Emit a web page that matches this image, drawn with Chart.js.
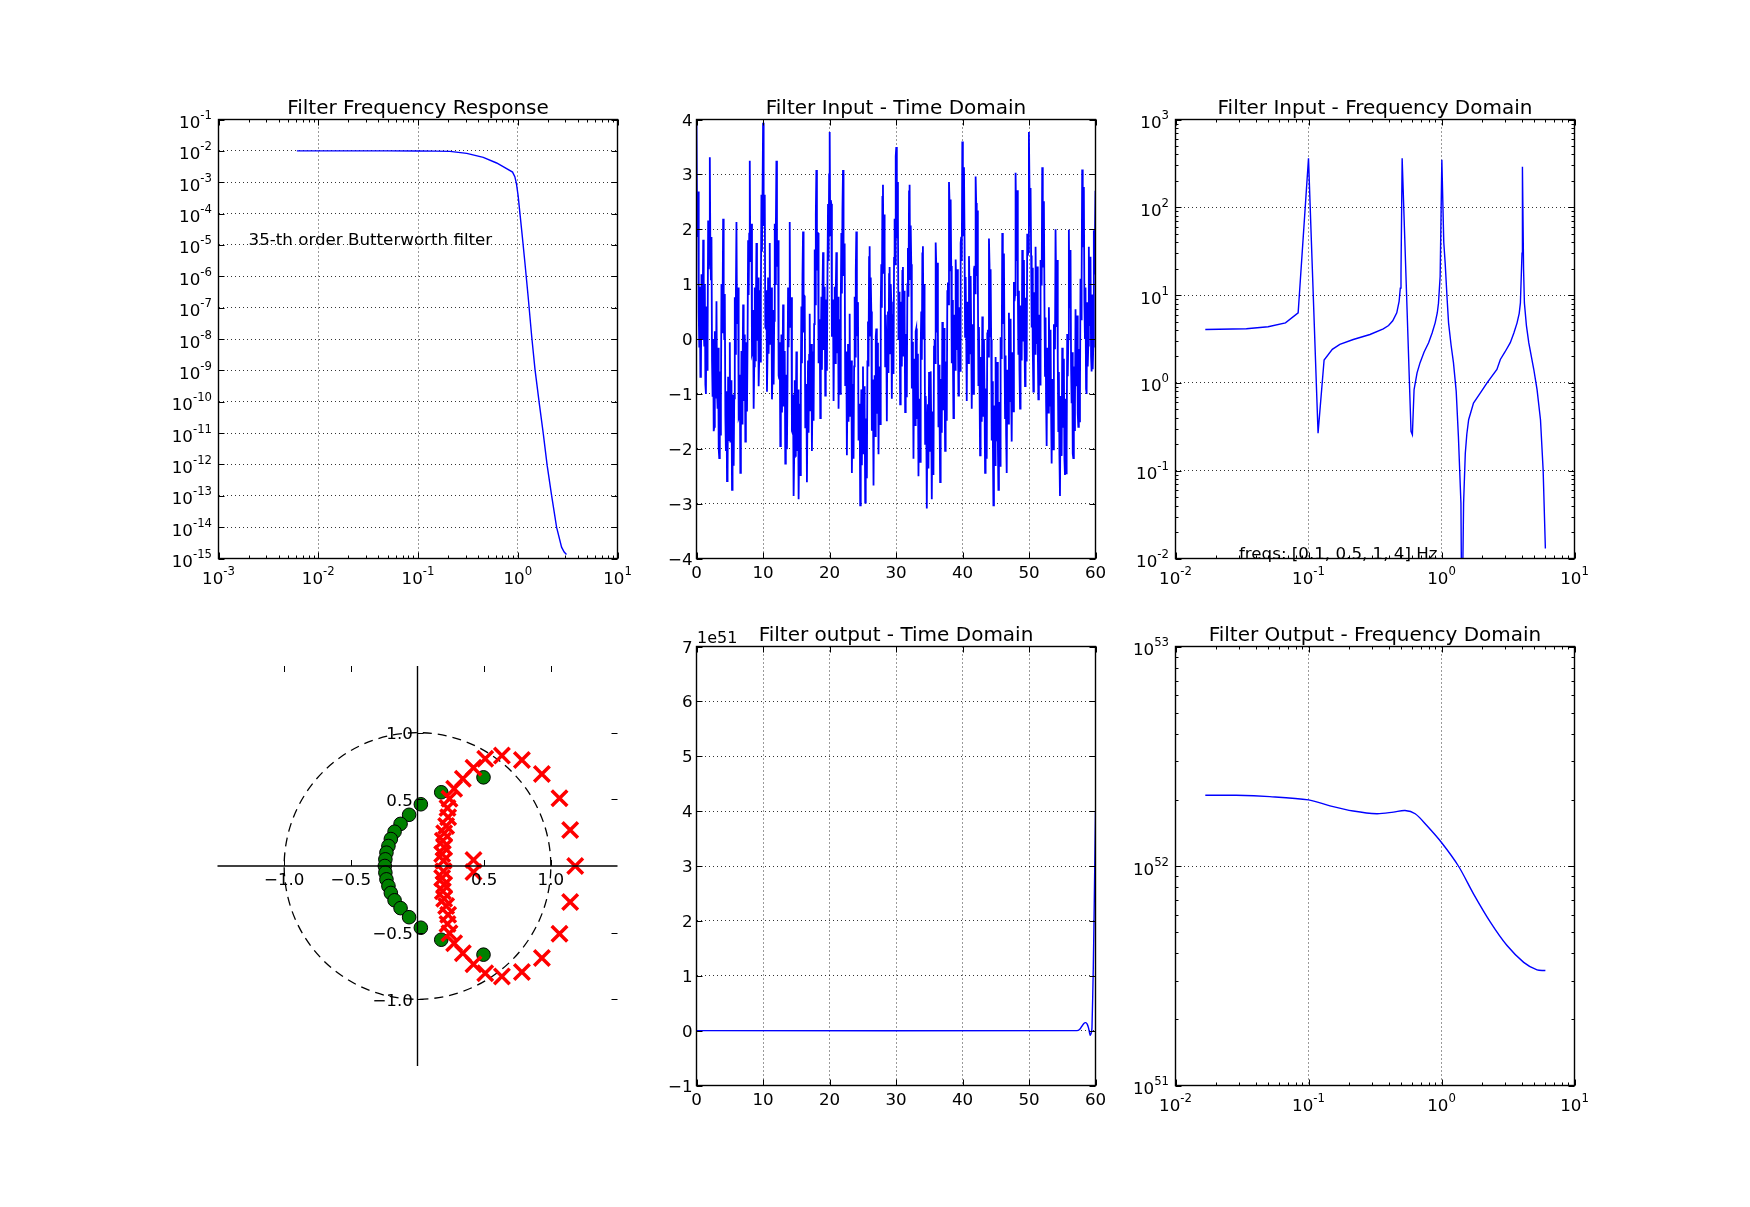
<!DOCTYPE html>
<html><head><meta charset="utf-8">
<script src="https://cdn.jsdelivr.net/npm/chart.js@4.4.1/dist/chart.umd.min.js"></script>
<style>
html,body{margin:0;padding:0;background:#fff;}
#wrap{position:relative;width:1750px;height:1207px;background:#fff;}
#wrap canvas{position:absolute;left:0;top:0;}
</style></head>
<body><div id="wrap">
<canvas id="c1" width="1750" height="1207"></canvas>
<canvas id="c2" width="1750" height="1207"></canvas>
<canvas id="c3" width="1750" height="1207"></canvas>
<canvas id="c4" width="1750" height="1207"></canvas>
<canvas id="c5" width="1750" height="1207"></canvas>
<canvas id="c6" width="1750" height="1207"></canvas>
</div>
<script>
// ---------------- DATA ----------------
// 1. Filter frequency response (log-log)
const respFreq = [0.0061,0.02,0.05,0.1,0.15,0.209,0.308,0.451,0.614,0.743,0.887,0.935,0.972,1.01,1.05,1.11,1.18,1.27,1.38,1.49,1.64,1.80,1.97,2.18,2.45,2.75,2.92,3.08];
const respGain = [1.0e-2,1.0e-2,9.98e-3,9.9e-3,9.8e-3,9.6e-3,8.3e-3,6.2e-3,4.1e-3,2.9e-3,2.1e-3,1.5e-3,8.7e-4,3.6e-4,1.07e-4,1.9e-5,2.7e-6,2.3e-7,1.2e-8,1.05e-9,9.3e-11,1.0e-11,9.5e-13,1.07e-13,1.0e-14,2.3e-15,1.6e-15,1.35e-15];
const respNote = {text:'35-th order Butterworth filter', x:0.002, y:1e-5};

// 2. Filter input, time domain: 720 samples spread evenly over 0..60 s
const inputSampleStep = 60/719;
const inputSignal = [
4.00,2.33,1.86,2.69,0.48,-0.14,0.95,-0.69,-0.59,1.18,0.00,0.24,1.81,0.18,-0.12,1.00,-0.83,-1.00,0.59,-0.56,0.00,2.16,1.27,1.69,3.31,1.59,1.07,1.86,-0.40,-1.05,0.00,-1.68,-1.60,0.14,-1.07,-0.86,0.69,-0.96,-1.27,-0.16,-2.00,-2.17,-0.59,-1.74,-1.17,1.00,0.12,0.56,2.19,0.49,0.00,0.82,-1.41,-2.04,-0.95,-2.59,-2.48,-0.69,-1.86,-1.60,
-0.06,-1.87,-1.53,-0.75,-2.75,-2.26,-1.01,-2.31,-1.08,0.76,-0.27,0.82,2.13,0.29,0.45,0.94,-1.44,-1.41,-0.65,-2.44,-1.67,-0.22,-1.54,-0.63,0.63,-1.13,-0.74,0.08,-1.87,-1.35,-0.06,-1.32,-0.07,1.80,0.80,1.92,3.25,1.42,1.60,2.10,-0.27,-0.23,0.53,-1.27,-0.50,0.94,-0.39,0.51,1.75,-0.03,0.33,1.12,-0.86,-0.36,0.89,-0.41,0.81,2.63,1.59,2.66,
3.94,2.06,2.19,2.63,0.21,0.19,0.89,-0.96,-0.26,1.12,-0.27,0.57,1.75,-0.09,0.21,0.94,-1.10,-0.67,0.53,-0.83,0.33,2.10,1.00,2.02,3.25,1.32,1.40,1.80,-0.67,-0.72,-0.06,-1.95,-1.27,0.08,-1.34,-0.53,0.63,-1.23,-0.94,-0.22,-2.27,-1.84,-0.65,-2.01,-0.84,0.94,-0.15,0.89,2.13,0.22,0.33,0.76,-1.68,-1.71,-1.01,-2.86,-2.15,-0.75,-2.13,-1.27,
-0.23,-2.04,-1.19,-0.92,-2.92,-1.92,-1.18,-2.48,-0.74,0.59,-0.44,1.16,1.96,0.12,0.79,0.77,-1.61,-1.07,-0.82,-2.61,-1.33,-0.39,-1.71,-0.29,0.46,-1.30,-0.40,-0.09,-2.04,-1.01,-0.23,-1.49,0.27,1.63,0.63,2.26,3.08,1.25,1.94,1.93,-0.44,0.11,0.36,-1.44,-0.16,0.77,-0.56,0.85,1.58,-0.20,0.67,0.95,-1.03,-0.02,0.72,-0.58,1.15,2.46,1.42,3.00,
3.77,1.89,2.53,2.46,0.04,0.53,0.72,-1.13,0.08,0.95,-0.44,0.91,1.58,-0.26,0.55,0.77,-1.27,-0.33,0.36,-1.00,0.67,1.93,0.83,2.36,3.08,1.15,1.74,1.63,-0.84,-0.38,-0.23,-2.12,-0.93,-0.09,-1.51,-0.19,0.46,-1.40,-0.60,-0.39,-2.44,-1.50,-0.82,-2.18,-0.50,0.77,-0.32,1.23,1.96,0.05,0.67,0.59,-1.85,-1.37,-1.18,-3.03,-1.81,-0.92,-2.30,-0.93,
-0.50,-2.10,-0.86,-1.19,-2.98,-1.59,-1.45,-2.54,-0.41,0.32,-0.50,1.49,1.69,0.06,1.12,0.50,-1.67,-0.74,-1.09,-2.67,-1.00,-0.66,-1.77,0.04,0.19,-1.36,-0.07,-0.36,-2.10,-0.68,-0.50,-1.55,0.60,1.36,0.57,2.59,2.81,1.19,2.27,1.66,-0.50,0.44,0.09,-1.50,0.17,0.50,-0.62,1.18,1.31,-0.26,1.00,0.68,-1.09,0.31,0.45,-0.64,1.48,2.19,1.36,3.33,
3.50,1.83,2.86,2.19,-0.02,0.86,0.45,-1.19,0.41,0.68,-0.50,1.24,1.31,-0.32,0.88,0.50,-1.33,0.00,0.09,-1.06,1.00,1.66,0.77,2.69,2.81,1.09,2.07,1.36,-0.90,-0.05,-0.50,-2.18,-0.60,-0.36,-1.57,0.14,0.19,-1.46,-0.27,-0.66,-2.50,-1.17,-1.09,-2.24,-0.17,0.50,-0.38,1.56,1.69,-0.01,1.00,0.32,-1.91,-1.04,-1.45,-3.09,-1.48,-1.19,-2.36,-0.60,
-0.83,-2.04,-0.59,-1.52,-2.92,-1.32,-1.78,-2.48,-0.14,-0.01,-0.44,1.76,1.36,0.12,1.39,0.17,-1.61,-0.47,-1.42,-2.61,-0.73,-0.99,-1.71,0.31,-0.14,-1.30,0.20,-0.69,-2.04,-0.41,-0.83,-1.49,0.87,1.03,0.63,2.86,2.48,1.25,2.54,1.33,-0.44,0.71,-0.24,-1.44,0.44,0.17,-0.56,1.45,0.98,-0.20,1.27,0.35,-1.03,0.58,0.12,-0.58,1.75,1.86,1.42,3.60,
3.17,1.89,3.13,1.86,0.04,1.13,0.12,-1.13,0.68,0.35,-0.44,1.51,0.98,-0.26,1.15,0.17,-1.27,0.27,-0.24,-1.00,1.27,1.33,0.83,2.96,2.48,1.15,2.34,1.03,-0.84,0.22,-0.83,-2.12,-0.33,-0.69,-1.51,0.41,-0.14,-1.40,0.00,-0.99,-2.44,-0.90,-1.42,-2.18,0.10,0.17,-0.32,1.83,1.36,0.05,1.27,-0.01,-1.85,-0.77,-1.78,-3.03,-1.21,-1.52,-2.30,-0.33,
-1.17,-1.87,-0.42,-1.86,-2.75,-1.15,-2.12,-2.31,0.03,-0.35,-0.27,1.93,1.02,0.29,1.56,-0.17,-1.44,-0.30,-1.76,-2.44,-0.56,-1.33,-1.54,0.48,-0.48,-1.13,0.37,-1.03,-1.87,-0.24,-1.17,-1.32,1.04,0.69,0.80,3.03,2.14,1.42,2.71,0.99,-0.27,0.88,-0.58,-1.27,0.61,-0.17,-0.39,1.62,0.64,-0.03,1.44,0.01,-0.86,0.75,-0.22,-0.41,1.92,1.52,1.59,3.77,
2.83,2.06,2.75,1.52,0.21,1.30,-0.22,-0.96,0.85,0.01,-0.27,1.68,0.64,-0.09,1.32,-0.17,-1.10,0.44,-0.58,-0.83,1.44,0.99,1.00,3.13,2.14,1.32,2.51,0.69,-0.67,0.39,-1.17,-1.95,-0.16,-1.03,-1.34,0.58,-0.48,-1.23,0.17,-1.33,-2.27,-0.73,-1.76,-2.01,0.27,-0.17,-0.15,2.00,1.02,0.22,1.44,-0.35,-1.68,-0.60,-2.12,-2.86,-1.04,-1.86,-2.13,-0.16,
-1.50,-1.60,-0.36,-2.19,-2.48,-1.09,-2.45,-2.04,0.09,-0.68,0.00,1.99,0.69,0.56,1.62,-0.50,-1.17,-0.24,-2.09,-2.17,-0.50,-1.66,-1.27,0.54,-0.81,-0.86,0.43,-1.36,-1.60,-0.18,-1.50,-1.05,1.10,0.36,1.07,3.09,1.81,1.69,2.77,0.66,0.00,0.94,-0.91,-1.00,0.67,-0.50,-0.12,1.68,0.31,0.24,1.50,-0.32,-0.59,0.81,-0.55,-0.14,1.98,1.19,1.86,2.70
];

// 3. Filter input, frequency domain (log-log)
const inSpecFreq = [0.01675,0.0341,0.0497,0.0671,0.0836,0.1,0.118,0.131,0.151,0.172,0.217,0.290,0.365,0.400,0.430,0.461,0.480,0.490,0.496,0.506,0.59,0.604,0.622,0.655,0.69,0.74,0.80,0.85,0.896,0.93,0.949,0.977,1.006,1.04,1.066,1.10,1.13,1.18,1.23,1.29,1.34,1.40,1.42,1.43,1.466,1.51,1.55,1.60,1.74,1.96,2.20,2.61,2.77,3.0,3.29,3.50,3.70,3.84,3.92,4.03,4.06,4.14,4.2,4.35,4.53,4.94,5.23,5.55,5.81,6.04];
const inSpecAmp  = [4.06,4.13,4.36,4.83,6.28,361,0.268,1.82,2.41,2.74,3.12,3.56,4.13,4.5,5.1,6.28,8.5,12.0,17.9,361,0.28,0.257,0.84,1.30,1.70,2.25,2.86,3.70,4.83,6.3,8.1,16.4,347,40,23,9.5,4.83,2.70,1.70,0.80,0.245,0.0425,0.002,0.002,0.0425,0.158,0.26,0.381,0.59,0.77,1.0,1.42,1.85,2.25,2.87,3.70,4.83,6.20,8.15,30,290,20,8.15,4.50,2.87,1.43,0.84,0.38,0.102,0.013];
const inSpecNote = {text:'freqs: [0.1, 0.5, 1, 4] Hz', x:0.03, y:0.01};

// 4. Pole-zero map
const zeroRe = [0.495,0.178,0.025,-0.063,-0.127,-0.172,-0.200,-0.218,-0.233,-0.241,-0.245,-0.241,-0.233,-0.218,-0.200,-0.172,-0.127,-0.063,0.025,0.178,0.495];
const zeroIm = [0.665,0.553,0.463,0.384,0.316,0.257,0.202,0.150,0.100,0.050,0.000,-0.050,-0.100,-0.150,-0.202,-0.257,-0.316,-0.384,-0.463,-0.553,-0.665];
const poleRe = [1.183,1.145,1.065,0.933,0.783,0.633,0.508,0.420,0.340,0.275,0.240,0.225,0.230,0.215,0.200,0.190,0.200,0.185,0.195,0.420,
                1.145,1.065,0.933,0.783,0.633,0.508,0.420,0.340,0.275,0.240,0.225,0.230,0.215,0.200,0.190,0.200,0.185,0.195,0.420];
const poleIm = [0,0.270,0.508,0.690,0.795,0.828,0.805,0.737,0.655,0.580,0.505,0.435,0.365,0.300,0.245,0.190,0.140,0.090,0.040,0.045,
                -0.270,-0.508,-0.690,-0.795,-0.828,-0.805,-0.737,-0.655,-0.580,-0.505,-0.435,-0.365,-0.300,-0.245,-0.190,-0.140,-0.090,-0.040,-0.045];
const unitCircleRadius = 1;

// 5. Filter output, time domain (values in units of 1e51)
const outTime = [0,57.2,57.6,57.95,58.25,58.5,58.75,58.95,59.1,59.2,59.35,59.47,59.67,59.82,60];
const outVal  = [0,0,0.02,0.08,0.13,0.145,0.12,0.05,-0.04,-0.085,-0.05,0.05,1.16,2.38,4.0];
const outOffsetText = '1e51';

// 6. Filter output, frequency domain (log-log)
const outSpecFreq = [0.01675,0.0286,0.0512,0.1,0.145,0.217,0.326,0.435,0.532,0.634,0.775,1.0,1.34,1.74,2.33,3.11,4.15,5.23,6.04];
const outSpecAmp  = [2.10e52,2.10e52,2.07e52,2.00e52,1.88e52,1.78e52,1.73e52,1.76e52,1.79e52,1.73e52,1.53e52,1.28e52,1.0e52,7.47e51,5.55e51,4.34e51,3.64e51,3.36e51,3.34e51];

// ---------------- TICKS / LABELS ----------------
const respXExp = [-3,-2,-1,0,1];
const respYExp = [-15,-14,-13,-12,-11,-10,-9,-8,-7,-6,-5,-4,-3,-2,-1];
const timeTicks = [0,10,20,30,40,50,60];
const inputYTicks = [-4,-3,-2,-1,0,1,2,3,4];
const specXExp = [-2,-1,0,1];
const inSpecYExp = [-2,-1,0,1,2,3];
const pzTicks = [-1,-0.5,0.5,1];
const pzTickLabels = ['\u22121.0','\u22120.5','0.5','1.0'];
const outYTicks = [-1,0,1,2,3,4,5,6,7];
const outSpecYExp = [51,52,53];
const titles = ['Filter Frequency Response','Filter Input - Time Domain','Filter Input - Frequency Domain','','Filter output - Time Domain','Filter Output - Frequency Domain'];

// ---------------- LAYOUT ----------------
const W = 1750, H = 1207;
const boxes = {
  resp:{l:218.5,r:617.5,t:119.5,b:558.5},
  inT:{l:696.5,r:1095.5,t:119.5,b:558.5},
  inF:{l:1175.5,r:1574.5,t:119.5,b:558.5},
  pz:{l:217.5,r:617.5,t:666,b:1066},
  outT:{l:696.5,r:1095.5,t:646.5,b:1085.5},
  outF:{l:1175.5,r:1574.5,t:646.5,b:1085.5}
};
const FONT = '"DejaVu Sans", "Liberation Sans", sans-serif';
const TICK_PX = 16.7, SUP_PX = 11.7, TITLE_PX = 20, SUP_RAISE = 9;
const MAJOR_LEN = 6, MINOR_LEN = 3;

function setFont(ctx, px){ ctx.font = px + 'px ' + FONT; }
function numLabel(v){ return (v < 0 ? '\u2212' : '') + Math.abs(v); }
function pow10(e){ return Math.pow(10, e); }
function minorsOf(exps){ const out=[]; for(let i=0;i<exps.length-1;i++){ for(let m=2;m<=9;m++) out.push(m*pow10(exps[i])); } return out; }

function powLabel(ctx, exp, x, y, align){
  const sup = String(exp);
  setFont(ctx, TICK_PX); const w1 = ctx.measureText('10').width;
  setFont(ctx, SUP_PX); const w2 = ctx.measureText(sup).width;
  const x0 = align === 'center' ? x - (w1 + w2)/2 : x - (w1 + w2);
  ctx.textAlign = 'left'; ctx.textBaseline = 'alphabetic';
  setFont(ctx, TICK_PX); ctx.fillText('10', x0, y);
  setFont(ctx, SUP_PX); ctx.fillText(sup, x0 + w1, y - SUP_RAISE);
}

const mplPlugin = {
  id: 'mpl',
  beforeDatasetsDraw(chart, args, o){
    if (!o || !o.unitCircle) return;
    const {ctx} = chart, xs = chart.scales.x, ys = chart.scales.y;
    const cx = xs.getPixelForValue(0), cy = ys.getPixelForValue(0);
    const r = xs.getPixelForValue(o.unitCircle) - cx;
    ctx.save(); ctx.strokeStyle = '#000'; ctx.lineWidth = 1.3; ctx.setLineDash([9,6]);
    ctx.beginPath(); ctx.arc(cx, cy, r, 0, Math.PI*2, true); ctx.stroke(); ctx.restore();
  },
  afterDatasetsDraw(chart, args, o){
    if (!o || !o.kind) return;
    const {ctx, chartArea:a} = chart, xs = chart.scales.x, ys = chart.scales.y;
    ctx.save(); ctx.strokeStyle = '#000'; ctx.lineWidth = 1; ctx.setLineDash([]);
    const seg = (x1,y1,x2,y2)=>{ ctx.beginPath(); ctx.moveTo(x1,y1); ctx.lineTo(x2,y2); ctx.stroke(); };
    if (o.kind === 'centered'){
      const x0 = xs.getPixelForValue(0), y0 = ys.getPixelForValue(0);
      o.xTicks.forEach(v=>{ const p = Math.round(xs.getPixelForValue(v))+0.5; seg(p,y0,p,y0-MAJOR_LEN); seg(p,a.top,p,a.top+MAJOR_LEN); });
      o.yTicks.forEach(v=>{ const p = Math.round(ys.getPixelForValue(v))+0.5; seg(x0,p,x0+MAJOR_LEN,p); seg(a.right,p,a.right-MAJOR_LEN,p); });
      ctx.lineWidth = 1.4;
      seg(a.left,y0,a.right,y0); seg(x0,a.top,x0,a.bottom);
    } else {
      const xt = (vals,len)=>vals.forEach(v=>{ const p = xs.getPixelForValue(v); if(p<a.left-0.5||p>a.right+0.5) return; const q=Math.round(p)+0.5; seg(q,a.bottom,q,a.bottom-len); seg(q,a.top,q,a.top+len); });
      const yt = (vals,len)=>vals.forEach(v=>{ const p = ys.getPixelForValue(v); if(p<a.top-0.5||p>a.bottom+0.5) return; const q=Math.round(p)+0.5; seg(a.left,q,a.left+len,q); seg(a.right,q,a.right-len,q); });
      xt(o.xMajor, MAJOR_LEN); xt(o.xMinor||[], MINOR_LEN);
      yt(o.yMajor, MAJOR_LEN); yt(o.yMinor||[], MINOR_LEN);
      ctx.lineWidth = 1.4; ctx.strokeRect(a.left, a.top, a.right-a.left, a.bottom-a.top);
    }
    ctx.restore();
  },
  afterDraw(chart, args, o){
    if (!o || !o.kind) return;
    const {ctx, chartArea:a} = chart, xs = chart.scales.x, ys = chart.scales.y;
    ctx.save(); ctx.fillStyle = '#000';
    if (o.kind === 'centered'){
      const x0 = xs.getPixelForValue(0), y0 = ys.getPixelForValue(0);
      setFont(ctx, TICK_PX); ctx.textBaseline = 'alphabetic';
      ctx.textAlign = 'center';
      o.xTicks.forEach((v,i)=>ctx.fillText(o.xLabels[i], xs.getPixelForValue(v), y0 + 19));
      ctx.textAlign = 'right';
      o.yTicks.forEach((v,i)=>ctx.fillText(o.yLabels[i], x0 - 4.6, ys.getPixelForValue(v) + 6.5));
    } else {
      if (o.xExps) o.xExps.forEach(e=>powLabel(ctx, e, xs.getPixelForValue(pow10(e)), a.bottom + 25.5, 'center'));
      else { setFont(ctx, TICK_PX); ctx.textAlign='center'; ctx.textBaseline='alphabetic';
        o.xMajor.forEach(v=>ctx.fillText(numLabel(v), xs.getPixelForValue(v), a.bottom + 19.3)); }
      if (o.yExps) o.yExps.forEach(e=>powLabel(ctx, e, a.left - 6.5, ys.getPixelForValue(pow10(e)) + 8.5, 'right'));
      else { setFont(ctx, TICK_PX); ctx.textAlign='right'; ctx.textBaseline='alphabetic';
        o.yMajor.forEach(v=>ctx.fillText(numLabel(v), a.left - 4, ys.getPixelForValue(v) + 6.1)); }
    }
    if (o.title){ setFont(ctx, TITLE_PX); ctx.textAlign='center'; ctx.textBaseline='alphabetic'; ctx.fillText(o.title, (a.left+a.right)/2, a.top - 6); }
    (o.texts||[]).forEach(t=>{ setFont(ctx, TICK_PX); ctx.textAlign='left'; ctx.textBaseline='alphabetic'; ctx.fillText(t.text, xs.getPixelForValue(t.x), ys.getPixelForValue(t.y)); });
    if (o.offsetText){ setFont(ctx, 16); ctx.textAlign='left'; ctx.textBaseline='alphabetic'; ctx.fillText(o.offsetText, a.left + 0.5, a.top - 3.5); }
    ctx.restore();
  }
};
Chart.register(mplPlugin);

function axis(type, min, max, gridVals, show){
  return {
    type, min, max, display: true,
    grid: { display: show !== false, drawTicks: false, color: '#000', lineWidth: 0.8 },
    border: { display: false, dash: [1,3] },
    ticks: { display: false },
    afterBuildTicks: s => { s.ticks = gridVals.map(v => ({value: v})); },
    afterFit: s => { if (s.isHorizontal()) s.height = 0; else s.width = 0; }
  };
}
function opts(box, scales, mpl){
  return {
    responsive: false, animation: false, events: [], devicePixelRatio: 1,
    layout: { padding: { left: box.l, top: box.t, right: W - box.r, bottom: H - box.b } },
    plugins: { legend: {display:false}, tooltip: {enabled:false}, mpl },
    scales
  };
}
function lineDs(xv, yv, extra){
  return Object.assign({ data: xv.map((x,i)=>({x, y: yv[i]})), borderColor:'#0000ff', borderWidth:1.4, pointRadius:0, fill:false, tension:0 }, extra||{});
}

// 1
new Chart(document.getElementById('c1'), {
  type:'line', data:{ datasets:[ lineDs(respFreq, respGain) ] },
  options: opts(boxes.resp, {
    x: axis('logarithmic', 1e-3, 10, respXExp.map(pow10)),
    y: axis('logarithmic', 1e-15, 1e-1, respYExp.map(pow10))
  }, { kind:'box', title:titles[0], xMajor:respXExp.map(pow10), xMinor:minorsOf(respXExp), yMajor:respYExp.map(pow10), xExps:respXExp, yExps:respYExp, texts:[respNote] })
});
// 2
const inputTimes = inputSignal.map((v,i)=>i*inputSampleStep);
new Chart(document.getElementById('c2'), {
  type:'line', data:{ datasets:[ lineDs(inputTimes, inputSignal, {borderWidth:1.8}) ] },
  options: opts(boxes.inT, {
    x: axis('linear', 0, 60, timeTicks),
    y: axis('linear', -4, 4, inputYTicks)
  }, { kind:'box', title:titles[1], xMajor:timeTicks, yMajor:inputYTicks })
});
// 3
new Chart(document.getElementById('c3'), {
  type:'line', data:{ datasets:[ lineDs(inSpecFreq, inSpecAmp) ] },
  options: opts(boxes.inF, {
    x: axis('logarithmic', 1e-2, 10, specXExp.map(pow10)),
    y: axis('logarithmic', 1e-2, 1e3, inSpecYExp.map(pow10))
  }, { kind:'box', title:titles[2], xMajor:specXExp.map(pow10), xMinor:minorsOf(specXExp), yMajor:inSpecYExp.map(pow10), yMinor:minorsOf(inSpecYExp), xExps:specXExp, yExps:inSpecYExp, texts:[inSpecNote] })
});
// 4
new Chart(document.getElementById('c4'), {
  type:'scatter',
  data:{ datasets:[
    { data: poleRe.map((x,i)=>({x, y: poleIm[i]})), pointStyle:'crossRot', pointRadius:11, pointBorderColor:'#ff0000', pointBackgroundColor:'#ff0000', pointBorderWidth:3.5, borderWidth:3.5, borderColor:'#ff0000', showLine:false },
    { data: zeroRe.map((x,i)=>({x, y: zeroIm[i]})), pointStyle:'circle', pointRadius:6.8, pointBorderColor:'#000000', pointBackgroundColor:'#008000', pointBorderWidth:1, borderWidth:1, borderColor:'#000000', showLine:false }
  ]},
  options: opts(boxes.pz, {
    x: Object.assign(axis('linear', -1.5, 1.5, pzTicks, false), {display:false}),
    y: Object.assign(axis('linear', -1.5, 1.5, pzTicks, false), {display:false})
  }, { kind:'centered', unitCircle:unitCircleRadius, xTicks:pzTicks, yTicks:pzTicks, xLabels:pzTickLabels, yLabels:pzTickLabels })
});
// 5
new Chart(document.getElementById('c5'), {
  type:'line', data:{ datasets:[ lineDs(outTime, outVal, {tension:0.2}) ] },
  options: opts(boxes.outT, {
    x: axis('linear', 0, 60, timeTicks),
    y: axis('linear', -1, 7, outYTicks)
  }, { kind:'box', title:titles[4], xMajor:timeTicks, yMajor:outYTicks, offsetText:outOffsetText })
});
// 6
new Chart(document.getElementById('c6'), {
  type:'line', data:{ datasets:[ lineDs(outSpecFreq, outSpecAmp, {tension:0.3}) ] },
  options: opts(boxes.outF, {
    x: axis('logarithmic', 1e-2, 10, specXExp.map(pow10)),
    y: axis('logarithmic', 1e51, 1e53, outSpecYExp.map(pow10))
  }, { kind:'box', title:titles[5], xMajor:specXExp.map(pow10), xMinor:minorsOf(specXExp), yMajor:outSpecYExp.map(pow10), yMinor:minorsOf(outSpecYExp), xExps:specXExp, yExps:outSpecYExp })
});
</script>
</body></html>
